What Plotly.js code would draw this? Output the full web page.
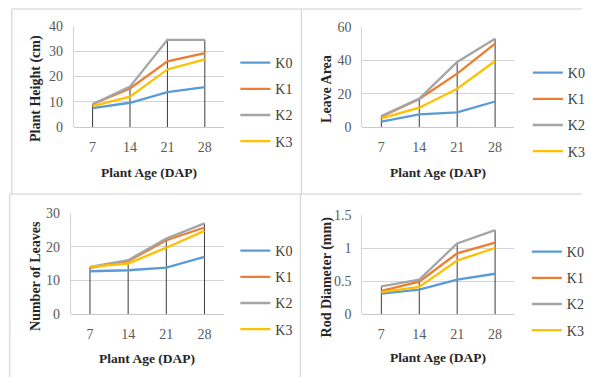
<!DOCTYPE html>
<html>
<head>
<meta charset="utf-8">
<script src="https://cdn.plot.ly/plotly-3.0.1.min.js"></script>
<style>html,body{margin:0;padding:0;background:#fff}#chart{width:591px;height:377px}</style>
</head>
<body>
<div id="chart"></div>
<script>
// Data
const ages = [7, 14, 21, 28];
const seriesNames = ['K0', 'K1', 'K2', 'K3'];

const plantHeightK0 = [7.5, 9.6, 13.8, 15.8];
const plantHeightK1 = [9, 15.3, 26, 29.3];
const plantHeightK2 = [9, 16, 34.5, 34.5];
const plantHeightK3 = [8.3, 12, 22.8, 26.8];

const leaveAreaK0 = [3.2, 7.6, 8.8, 15.3];
const leaveAreaK1 = [6.2, 16.8, 32, 50];
const leaveAreaK2 = [6.6, 17, 39, 53];
const leaveAreaK3 = [5.2, 11.6, 23, 39.6];

const leavesK0 = [12.7, 13, 13.8, 17];
const leavesK1 = [13.7, 15.7, 21.9, 25.7];
const leavesK2 = [14, 16, 22.4, 26.9];
const leavesK3 = [14, 15, 19.7, 24.7];

const rodK0 = [0.31, 0.37, 0.52, 0.61];
const rodK1 = [0.35, 0.49, 0.92, 1.08];
const rodK2 = [0.42, 0.52, 1.07, 1.27];
const rodK3 = [0.33, 0.41, 0.81, 1.0];

const panelYTitles = ['Plant Height (cm)', 'Leave Area', 'Number of Leaves', 'Rod Diameter (mm)'];
const xTitle = 'Plant Age (DAP)';

// Styling
const colors = ['#5B9BD5', '#ED7D31', '#A5A5A5', '#FFC000'];
const W = 591, H = 377;
const px = v => v / W;
const py = v => 1 - v / H;
const serif = 'Liberation Serif';

const panels = [
  {data: [plantHeightK0, plantHeightK1, plantHeightK2, plantHeightK3], range: [0, 40], dtick: 10,
   xd: [75, 227], yd: [26, 127], legXY: [239, 47], ytx: 37, xty: 172},
  {data: [leaveAreaK0, leaveAreaK1, leaveAreaK2, leaveAreaK3], range: [0, 60], dtick: 20,
   xd: [368, 522], yd: [27, 127], legXY: [536, 57], ytx: 332, xty: 172},
  {data: [leavesK0, leavesK1, leavesK2, leavesK3], range: [0, 30], dtick: 10,
   xd: [72, 227], yd: [213, 314], legXY: [239, 235], ytx: 36, xty: 358},
  {data: [rodK0, rodK1, rodK2, rodK3], range: [0, 1.5], dtick: 0.5,
   xd: [368, 522], yd: [215, 314], legXY: [535, 236], ytx: 332, xty: 357}
];

const traces = [];
const layout = {
  width: W, height: H,
  margin: {l: 0, r: 0, t: 0, b: 0},
  paper_bgcolor: '#fff', plot_bgcolor: '#fff',
  showlegend: true,
  annotations: [],
  shapes: []
};

panels.forEach((p, i) => {
  const n = i === 0 ? '' : String(i + 1);
  const xa = 'x' + n, ya = 'y' + n;
  const legName = 'legend' + n;
  // drop lines from each category's highest value
  const dx = [], dy = [];
  ages.forEach((a, j) => {
    const m = Math.max(...p.data.map(s => s[j]));
    dx.push(a, a, null); dy.push(0, m, null);
  });
  traces.push({x: dx, y: dy, xaxis: xa, yaxis: ya, mode: 'lines', showlegend: false,
    hoverinfo: 'skip', line: {color: '#3a3a3a', width: 1}});
  p.data.forEach((s, k) => {
    traces.push({x: ages, y: s, xaxis: xa, yaxis: ya, name: seriesNames[k], mode: 'lines',
      legend: legName, legendgroup: 'g' + i + k,
      line: {color: colors[k], width: 2.3}});
  });
  layout['xaxis' + n] = {
    domain: [px(p.xd[0]), px(p.xd[1])], anchor: ya,
    range: [3.5, 31.5], tickvals: ages, ticktext: ages.map(String),
    showgrid: false, zeroline: false, showline: false, ticks: '',
    ticklabelstandoff: 10,
    tickfont: {family: serif, size: 14, color: '#595959'}, fixedrange: true
  };
  layout['yaxis' + n] = {
    domain: [py(p.yd[1]), py(p.yd[0])], anchor: xa,
    range: p.range, dtick: p.dtick, tick0: 0,
    showgrid: true, gridcolor: '#d4d4d4', gridwidth: 1,
    zeroline: true, zerolinecolor: '#c8c8c8', zerolinewidth: 1,
    showline: true, linecolor: '#d4d4d4', linewidth: 1,
    ticks: '', ticklen: 0, ticklabelstandoff: 7,
    tickfont: {family: serif, size: 14, color: '#595959'},
    fixedrange: true
  };
  layout[legName] = {
    x: px(p.legXY[0]), y: py(p.legXY[1]), xanchor: 'left', yanchor: 'top',
    font: {family: serif, size: 14, color: '#404040'},
    bgcolor: 'rgba(0,0,0,0)', traceorder: 'grouped', tracegroupgap: 5
  };
  layout.annotations.push({
    text: '<b>' + panelYTitles[i] + '</b>', textangle: -90,
    xref: 'paper', yref: 'paper', x: px(p.ytx), y: py((p.yd[0] + p.yd[1]) / 2 + 12),
    xanchor: 'center', yanchor: 'middle', showarrow: false,
    font: {family: serif, size: 14, color: '#262626'}
  });
  layout.annotations.push({
    text: '<b>' + xTitle + '</b>',
    xref: 'paper', yref: 'paper', x: px((p.xd[0] + p.xd[1]) / 2), y: py(p.xty),
    xanchor: 'center', yanchor: 'middle', showarrow: false,
    font: {family: serif, size: 13.5, color: '#262626'}
  });
});

// panel frames
const frame = (x0, y0, x1, y1) => ({type: 'line', xref: 'paper', yref: 'paper',
  x0: px(x0), y0: py(y0), x1: px(x1), y1: py(y1), line: {color: '#cfcfcf', width: 1}});
layout.shapes.push(
  frame(12, 9, 591, 9),
  frame(12, 9, 12, 194),
  frame(306, 9, 306, 194),
  frame(10, 194, 591, 194),
  frame(10, 194, 10, 377),
  frame(305, 194, 305, 377)
);

Plotly.newPlot('chart', traces, layout, {displayModeBar: false, staticPlot: true});
</script>
</body>
</html>
